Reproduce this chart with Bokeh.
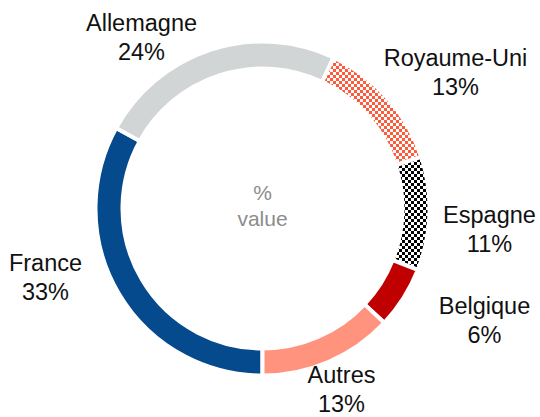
import math
import base64
from bokeh.plotting import figure
from bokeh.models import Range1d, ColumnDataSource, ImageURLTexture
from bokeh.core.properties import value
from bokeh.embed import file_html
from bokeh.resources import INLINE

# ---- data ----
categories = ["France", "Allemagne", "Royaume-Uni", "Espagne", "Belgique", "Autres"]
shares = [33, 24, 13, 11, 6, 13]
fill_colors = ["#044a8d", "#d2d5d6", "#ffffff", "#ffffff", "#c00000", "#ff937d"]
hatch_patterns = [" ", " ", "checker_red", "checker_black", " ", " "]
centre_text = "%\nvalue"

# ---- layout (pixels) ----
W, H = 540, 417
CX, CY = 262, 208          # centre of the ring inside the figure (from left / top)
R_OUT, R_IN = 167, 140
START_DEG = 180            # clockwise from 12 o'clock
# label block centres, offsets from ring centre (px, y up)
label_offsets = [(-217, -69), (-121, 171), (193, 136), (227, -21), (222, -112), (79, -181)]

total = sum(shares)
starts, ends = [], []
acc = START_DEG
for s in shares:
    a1 = acc + 360.0 * s / total
    starts.append(math.radians(90 - acc))
    ends.append(math.radians(90 - a1))
    acc = a1

src = ColumnDataSource(dict(
    x=[0] * len(shares), y=[0] * len(shares),
    start=starts, end=ends, fill=fill_colors, hatch=hatch_patterns,
))

p = figure(width=W, height=H, x_range=Range1d(-CX, W - CX), y_range=Range1d(-(H - CY), CY),
           output_backend="svg", toolbar_location=None, min_border=0,
           x_axis_location=None, y_axis_location=None)
p.grid.visible = False
p.outline_line_color = None
p.background_fill_color = "white"
p.border_fill_color = "white"


def checker_url(color):
    svg = ("<svg xmlns='http://www.w3.org/2000/svg' width='6' height='6' shape-rendering='crispEdges'>"
           "<rect width='6' height='6' fill='white'/>"
           f"<rect x='0' y='0' width='3' height='3' fill='{color}'/>"
           f"<rect x='3' y='3' width='3' height='3' fill='{color}'/></svg>")
    return "data:image/svg+xml;base64," + base64.b64encode(svg.encode()).decode()


checker_red = ImageURLTexture(url=checker_url("#ff5a3a"))
checker_black = ImageURLTexture(url=checker_url("#000000"))

p.annular_wedge(x="x", y="y", inner_radius=R_IN, outer_radius=R_OUT,
                inner_radius_units="screen", outer_radius_units="screen",
                start_angle="start", end_angle="end", direction="clock",
                fill_color="fill", line_color="white", line_width=4,
                hatch_pattern="hatch", hatch_scale=6, hatch_color="black",
                hatch_extra={"checker_red": checker_red, "checker_black": checker_black},
                source=src)

lab_src = ColumnDataSource(dict(
    x=[o[0] for o in label_offsets], y=[o[1] for o in label_offsets],
    t=[f"{c}\n{v}%" for c, v in zip(categories, shares)],
))
p.text(x="x", y="y", text="t", source=lab_src, text_align="center", text_baseline="middle",
       text_font=value("Liberation Sans"), text_font_size="23.5px", text_color="#111111",
       text_line_height=1.12)

p.text(x=[0], y=[3], text=[centre_text], text_align="center", text_baseline="middle",
       text_font=value("Liberation Sans"), text_font_size="21px", text_color="#8c8c8c",
       text_line_height=1.15)

open("out.html", "w").write(file_html(p, INLINE))
